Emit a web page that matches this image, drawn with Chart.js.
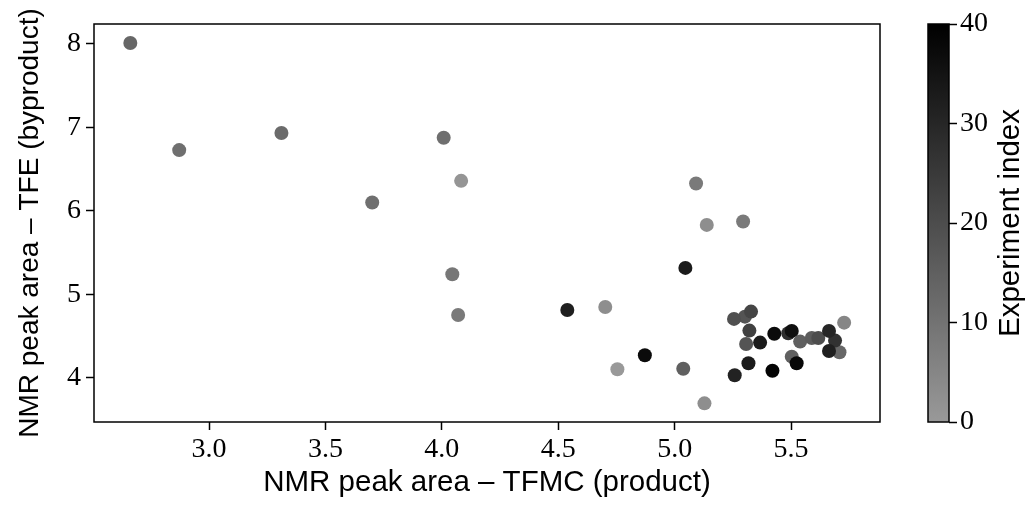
<!DOCTYPE html>
<html>
<head>
<meta charset="utf-8">
<script src="https://cdn.jsdelivr.net/npm/chart.js@4.4.1/dist/chart.umd.min.js"></script>
<style>
html, body { margin: 0; padding: 0; background: #fff; }
#wrap { position: relative; width: 1028px; height: 508px; }
#main { position: absolute; left: 0; top: 0; }
#cbar { position: absolute; left: 905px; top: 0; }
</style>
</head>
<body>
<div id="wrap">
  <canvas id="main" width="905" height="508"></canvas>
  <canvas id="cbar" width="123" height="508"></canvas>
</div>
<script>
// data, ordered by experiment index (later ones drawn on top)
const tfmcArea = [4.754, 4.083, 4.702, 5.138, 5.128, 5.728, 4.070, 5.092, 5.294, 4.045,
                  2.872, 3.701, 4.008, 3.311, 2.662, 5.708, 5.037, 5.539, 5.503, 5.589,
                  5.302, 5.307, 5.255, 5.617, 5.328, 5.321, 5.689, 5.488, 5.663, 5.258,
                  4.539, 5.663, 5.046, 5.367, 5.317, 5.503, 4.872, 5.428, 5.524, 5.420];
const tfeArea  = [4.104, 6.359, 4.850, 5.832, 3.696, 4.662, 4.754, 6.327, 5.872, 5.242,
                  6.727, 6.099, 6.874, 6.931, 8.008, 4.308, 4.111, 4.435, 4.255, 4.479,
                  4.734, 4.407, 4.707, 4.479, 4.794, 4.567, 4.447, 4.535, 4.563, 4.032,
                  4.814, 4.323, 5.317, 4.423, 4.176, 4.563, 4.272, 4.530, 4.176, 4.087];
const expIndex = [0, 1, 3, 3, 3, 5, 8, 8, 8, 9,
                  11, 11, 11, 12, 13, 13, 15, 15, 15, 16,
                  18, 18, 19, 20, 22, 23, 27, 28, 30, 31,
                  32, 32, 33, 33, 33, 36, 37, 37, 38, 39];

const xTicks = [3.0, 3.5, 4.0, 4.5, 5.0, 5.5];
const yTicks = [4, 5, 6, 7, 8];
const cbTicks = [0, 10, 20, 30, 40];
const xLimits = [2.506, 5.882];
const yLimits = [3.473, 8.236];
const indexRange = [0, 40];

const serif = { family: "'Liberation Serif', 'DejaVu Serif', serif", size: 28 };
const sansX = { family: "'Liberation Sans', Arial, sans-serif", size: 29.5 };
const sansY = { family: "'Liberation Sans', Arial, sans-serif", size: 28 };

// grey colour map: light grey at 0, black at 40
function greyFor(i) {
    const v = Math.round(153 * (1 - (i - indexRange[0]) / (indexRange[1] - indexRange[0])));
    return `rgb(${v},${v},${v})`;
}

// box round the plot area, like matplotlib spines
const framePlugin = {
    id: 'frame',
    afterDraw(chart) {
        const { ctx, chartArea: a } = chart;
        ctx.save();
        ctx.strokeStyle = '#000';
        ctx.lineWidth = 1.5;
        ctx.strokeRect(a.left, a.top, a.right - a.left, a.bottom - a.top);
        ctx.restore();
    }
};

const tickGrid = { display: true, drawOnChartArea: false, drawTicks: true, tickLength: 8, tickWidth: 1.5, tickColor: '#000' };

new Chart(document.getElementById('main'), {
    type: 'scatter',
    data: {
        datasets: [{
            data: tfmcArea.map((x, i) => ({ x: x, y: tfeArea[i] })),
            pointBackgroundColor: expIndex.map(greyFor),
            pointBorderWidth: 0,
            pointRadius: 7,
            pointHoverRadius: 7
        }]
    },
    options: {
        responsive: false,
        animation: false,
        devicePixelRatio: 1,
        layout: { padding: { top: 24, right: 25, left: 0, bottom: 0 } },
        plugins: { legend: { display: false }, tooltip: { enabled: false } },
        scales: {
            x: {
                type: 'linear',
                min: xLimits[0],
                max: xLimits[1],
                afterBuildTicks: s => { s.ticks = xTicks.map(v => ({ value: v })); },
                afterFit: s => { s.height = 86; },
                ticks: { font: serif, color: '#000', padding: 3, maxRotation: 0, autoSkip: false,
                         callback: v => Number(v).toFixed(1) },
                grid: tickGrid,
                border: { display: false },
                title: { display: true, text: 'NMR peak area – TFMC (product)', font: sansX, color: '#000',
                         padding: { top: 7, bottom: 7 } }
            },
            y: {
                type: 'linear',
                min: yLimits[0],
                max: yLimits[1],
                afterBuildTicks: s => { s.ticks = yTicks.map(v => ({ value: v })); },
                afterFit: s => { s.width = 94; },
                ticks: { font: serif, color: '#000', padding: 5, autoSkip: false,
                         callback: v => String(v) },
                grid: tickGrid,
                border: { display: false },
                title: { display: true, text: 'NMR peak area – TFE (byproduct)', font: sansY, color: '#000',
                         padding: { top: 13, bottom: 13 } }
            }
        }
    },
    plugins: [framePlugin]
});

// colour bar label, reading bottom to top
const cbarLabel = {
    id: 'cbarLabel',
    afterDraw(chart) {
        const { ctx, chartArea: a } = chart;
        ctx.save();
        ctx.fillStyle = '#000';
        ctx.font = `${sansX.size}px ${sansX.family}`;
        ctx.textAlign = 'center';
        ctx.textBaseline = 'middle';
        ctx.translate(106, (a.top + a.bottom) / 2);
        ctx.rotate(-Math.PI / 2);
        ctx.fillText('Experiment index', 0, 0);
        ctx.restore();
    }
};

new Chart(document.getElementById('cbar'), {
    type: 'bar',
    data: {
        labels: [''],
        datasets: [{
            data: [[indexRange[0], indexRange[1]]],
            backgroundColor: ctx => {
                const a = ctx.chart.chartArea;
                if (!a) return greyFor(20);
                const g = ctx.chart.ctx.createLinearGradient(0, a.bottom, 0, a.top);
                g.addColorStop(0, greyFor(indexRange[0]));
                g.addColorStop(1, greyFor(indexRange[1]));
                return g;
            },
            borderWidth: 0,
            barPercentage: 1,
            categoryPercentage: 1
        }]
    },
    options: {
        responsive: false,
        animation: false,
        devicePixelRatio: 1,
        layout: { padding: { top: 24, left: 23, right: 0, bottom: 86 } },
        plugins: { legend: { display: false }, tooltip: { enabled: false } },
        scales: {
            x: { display: false },
            y: {
                position: 'right',
                min: indexRange[0],
                max: indexRange[1],
                afterBuildTicks: s => { s.ticks = cbTicks.map(v => ({ value: v })); },
                afterFit: s => { s.width = 79; },
                ticks: { font: serif, color: '#000', padding: 3, autoSkip: false },
                grid: tickGrid,
                border: { display: false }
            }
        }
    },
    plugins: [framePlugin, cbarLabel]
});
</script>
</body>
</html>
